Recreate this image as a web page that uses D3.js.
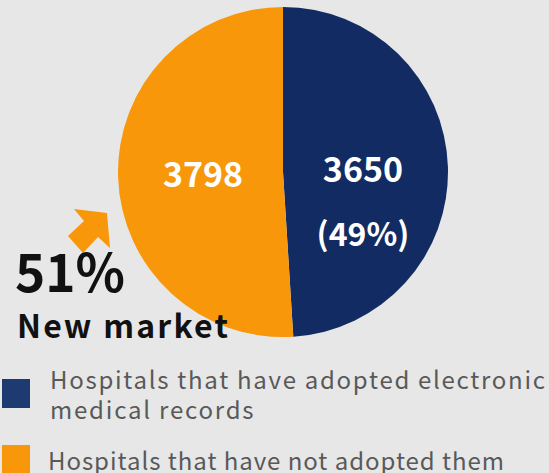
<!DOCTYPE html>
<html>
<head>
<meta charset="utf-8">
<script src="https://cdn.jsdelivr.net/npm/d3@7"></script>
<style>
  html, body { margin: 0; padding: 0; background: #e7e7e7; }
  svg { display: block; font-family: "Noto Sans CJK JP", "Noto Sans", sans-serif; }
</style>
</head>
<body>
<svg id="chart" width="549" height="473"></svg>
<script>
const categories = ["Hospitals that have adopted electronic medical records", "Hospitals that have not adopted them"];
const values = [3650, 3798];
const legendLines = [["Hospitals that have adopted electronic", "medical records"], ["Hospitals that have not adopted them"]];
const calloutLabel = "New market";

const colors = d3.scaleOrdinal().domain(categories).range(["#122c63", "#f8970a"]);
const legendColors = ["#1d3b70", "#f8970a"];

const svg = d3.select("#chart");
const cx = 283, cy = 172, r = 165;

const total = d3.sum(values);
const data = categories.map((c, i) => ({ key: c, value: values[i] }));
const pie = d3.pie().value(d => d.value).sort(null);
const arc = d3.arc().innerRadius(0).outerRadius(r);
const labelArc = d3.arc().innerRadius(80).outerRadius(80);

const g = svg.append("g").attr("transform", `translate(${cx},${cy})`);
const slices = g.selectAll("g.slice").data(pie(data)).join("g").attr("class", "slice");
slices.append("path")
  .attr("d", arc)
  .attr("fill", d => colors(d.data.key));

// value labels
slices.append("text")
  .attr("transform", d => `translate(${labelArc.centroid(d)})`)
  .attr("text-anchor", "middle")
  .attr("dy", "0.36em")
  .attr("fill", "#fff")
  .attr("font-size", 34)
  .attr("font-weight", 700)
  .text(d => d.data.value);

// percentage only on the adopted slice
slices.filter((d, i) => i === 0).append("text")
  .attr("transform", d => `translate(${labelArc.centroid(d)})`)
  .attr("text-anchor", "middle")
  .attr("y", 65)
  .attr("dy", "0.36em")
  .attr("fill", "#fff")
  .attr("font-size", 32)
  .attr("font-weight", 700)
  .text(`(${Math.round(values[0] / total * 100)}%)`);

// callout arrow toward the pie
svg.append("path")
  .attr("d", "M74,209 L107,213 L110,248 L98,237 L83,253 L68,236 L84,221 Z")
  .attr("fill", "#f8970a");

svg.append("text")
  .attr("x", 15).attr("y", 292)
  .attr("font-size", 53).attr("font-weight", 700).attr("fill", "#111")
  .attr("textLength", 110).attr("lengthAdjust", "spacingAndGlyphs")
  .text(`${Math.round(values[1] / total * 100)}%`);

svg.append("text")
  .attr("x", 17).attr("y", 338)
  .attr("font-size", 32).attr("font-weight", 700).attr("fill", "#111")
  .attr("textLength", 211).attr("lengthAdjust", "spacing")
  .text(calloutLabel);

// legend
const legend = svg.append("g").attr("class", "legend");
const legendTops = [379, 445];
const legendText = [[50, 389, 495], [48, 470, 456]];
legendLines.forEach((lines, i) => {
  legend.append("rect")
    .attr("x", 2).attr("y", legendTops[i])
    .attr("width", 28).attr("height", 29)
    .attr("fill", legendColors[i]);
  lines.forEach((line, j) => {
    const t = legend.append("text")
      .attr("x", legendText[i][0])
      .attr("y", legendText[i][1] + j * 30)
      .attr("font-size", 24)
      .attr("fill", "#595959")
      .text(line);
    if (j === 0) t.attr("textLength", legendText[i][2]).attr("lengthAdjust", "spacing");
    else t.attr("letter-spacing", 1.8);
  });
});
</script>
</body>
</html>
